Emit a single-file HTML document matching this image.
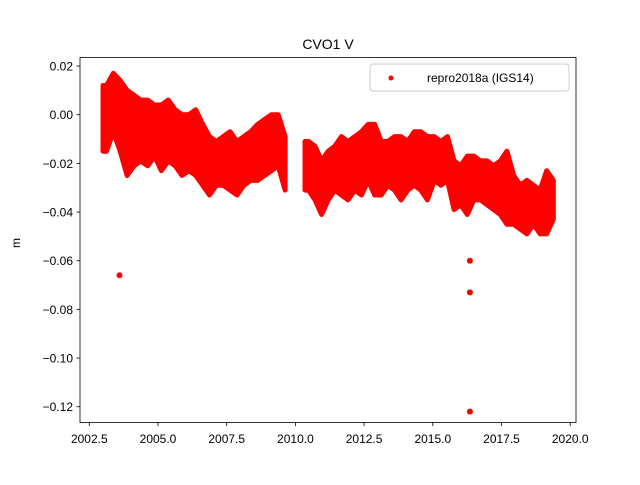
<!DOCTYPE html>
<html><head><meta charset="utf-8"><style>
body{margin:0;background:#fff;}
svg text{font-family:"Liberation Sans","DejaVu Sans",sans-serif;}
</style></head><body>
<svg id="chart" width="640" height="480" xmlns="http://www.w3.org/2000/svg">
<rect width="640" height="480" fill="#fff"/>
<text x="328" y="49" font-size="14" text-anchor="middle">CVO1 V</text>
<text x="20" y="243" font-size="12" text-anchor="middle" transform="rotate(-90 20 243)">m</text>
<g id="marks"></g>
<g id="axes"></g>
<rect x="80" y="57.6" width="496" height="364.8" fill="none" stroke="#000" stroke-width="0.8"/>
<g>
<rect x="370" y="64" width="199" height="27" rx="3" fill="#fff" fill-opacity="0.8" stroke="#ccc"/>
<circle cx="391" cy="78" r="2.5" fill="#f00"/>
<text x="427" y="82" font-size="12">repro2018a (IGS14)</text>
</g>
</svg>
<script>
const binStart=[2003.0,2003.25,2003.5,2003.75,2004.0,2004.25,2004.5,2004.75,2005.0,2005.25,2005.5,2005.75,2006.0,2006.25,2006.5,2006.75,2007.0,2007.25,2007.5,2007.75,2008.0,2008.25,2008.5,2008.75,2009.0,2009.25,2009.5,
2010.35,2010.59,2010.83,2011.07,2011.31,2011.55,2011.79,2012.04,2012.28,2012.52,2012.76,2013.00,2013.24,2013.48,2013.72,2013.96,2014.20,2014.44,2014.68,2014.93,2015.17,2015.41,2015.65,2015.89,2016.13,2016.37,2016.61,2016.85,2017.09,2017.33,2017.57,2017.82,2018.06,2018.30,2018.54,2018.78,2019.02,2019.26];
const binHigh=[0.012,0.017,0.014,0.010,0.008,0.006,0.006,0.004,0.004,0.006,0.002,0.000,0.000,0.002,-0.004,-0.009,-0.011,-0.009,-0.007,-0.011,-0.009,-0.007,-0.004,-0.002,0.000,0.000,-0.009,
-0.011,-0.013,-0.019,-0.015,-0.013,-0.009,-0.011,-0.009,-0.007,-0.004,-0.004,-0.011,-0.011,-0.009,-0.009,-0.011,-0.007,-0.007,-0.009,-0.009,-0.011,-0.009,-0.019,-0.021,-0.017,-0.017,-0.019,-0.019,-0.021,-0.019,-0.015,-0.025,-0.029,-0.027,-0.029,-0.031,-0.023,-0.027];
const binLow=[-0.015,-0.007,-0.015,-0.025,-0.021,-0.019,-0.021,-0.017,-0.023,-0.019,-0.021,-0.025,-0.023,-0.025,-0.029,-0.033,-0.029,-0.029,-0.031,-0.033,-0.029,-0.027,-0.027,-0.025,-0.023,-0.021,-0.031,
-0.031,-0.035,-0.041,-0.035,-0.031,-0.033,-0.035,-0.031,-0.033,-0.027,-0.033,-0.033,-0.029,-0.031,-0.035,-0.031,-0.029,-0.031,-0.035,-0.027,-0.029,-0.027,-0.039,-0.037,-0.041,-0.035,-0.035,-0.037,-0.039,-0.041,-0.045,-0.045,-0.047,-0.049,-0.045,-0.049,-0.049,-0.043];
const outlierT=[2003.6,2016.35,2016.35,2016.35];
const outlierV=[-0.066,-0.060,-0.073,-0.122];
const xTicks=[2002.5,2005.0,2007.5,2010.0,2012.5,2015.0,2017.5,2020.0];
const yTicks=[0.02,0.00,-0.02,-0.04,-0.06,-0.08,-0.10,-0.12];
const binWidth=0.25;

const NS='http://www.w3.org/2000/svg';
function xs(t){return 89.3+(t-2002.5)*27.48;}
function ys(v){return 114.7-v*2433.5;}
const marks=document.getElementById('marks');
const axes=document.getElementById('axes');
const groups=[];let cur=[];
for(let i=0;i<binStart.length;i++){
  if(cur.length && binStart[i]-binStart[cur[cur.length-1]]>binWidth+0.01){groups.push(cur);cur=[];}
  cur.push(i);
}
if(cur.length)groups.push(cur);
for(const g of groups){
  const top=[],bot=[];
  const first=g[0];
  top.push([xs(binStart[first]),ys(binHigh[first])]);
  for(const i of g){top.push([xs(binStart[i]+binWidth/2),ys(binHigh[i])]);}
  for(let k=g.length-1;k>=0;k--){const i=g[k];bot.push([xs(binStart[i]+binWidth/2),ys(binLow[i])]);}
  bot.push([xs(binStart[first]),ys(binLow[first])]);
  const p=document.createElementNS(NS,'polygon');
  
  
  p.setAttribute('points',top.concat(bot).map(q=>q[0].toFixed(1)+','+q[1].toFixed(1)).join(' '));
  p.setAttribute('fill','#f00');p.setAttribute('stroke','#f00');
  p.setAttribute('stroke-width','5');p.setAttribute('stroke-linejoin','round');
  marks.appendChild(p);
}
for(let i=0;i<outlierT.length;i++){
  const c=document.createElementNS(NS,'circle');
  
  
  c.setAttribute('cx',xs(outlierT[i]));c.setAttribute('cy',ys(outlierV[i]));
  c.setAttribute('r',3);c.setAttribute('fill','#f00');
  marks.appendChild(c);
}
for(const t of xTicks){
  const x=xs(t);
  const l=document.createElementNS(NS,'line');
  
  
  l.setAttribute('x1',x);l.setAttribute('x2',x);l.setAttribute('y1',422.4);l.setAttribute('y2',426);
  l.setAttribute('stroke','#000');l.setAttribute('stroke-width','0.8');
  axes.appendChild(l);
  const tx=document.createElementNS(NS,'text');
  
  
  tx.setAttribute('x',x);tx.setAttribute('y',443);tx.setAttribute('font-size','12');tx.setAttribute('text-anchor','middle');
  tx.textContent=t.toFixed(1);
  axes.appendChild(tx);
}
for(const v of yTicks){
  const y=ys(v);
  const l=document.createElementNS(NS,'line');
  
  
  l.setAttribute('x1',76.5);l.setAttribute('x2',80);l.setAttribute('y1',y);l.setAttribute('y2',y);
  l.setAttribute('stroke','#000');l.setAttribute('stroke-width','0.8');
  axes.appendChild(l);
  const tx=document.createElementNS(NS,'text');
  
  
  tx.setAttribute('x',73);tx.setAttribute('y',y+4.5);tx.setAttribute('font-size','12');tx.setAttribute('text-anchor','end');
  tx.textContent=(v<0?'\u2212':'')+Math.abs(v).toFixed(2);
  axes.appendChild(tx);
}
</script>
</body></html>
